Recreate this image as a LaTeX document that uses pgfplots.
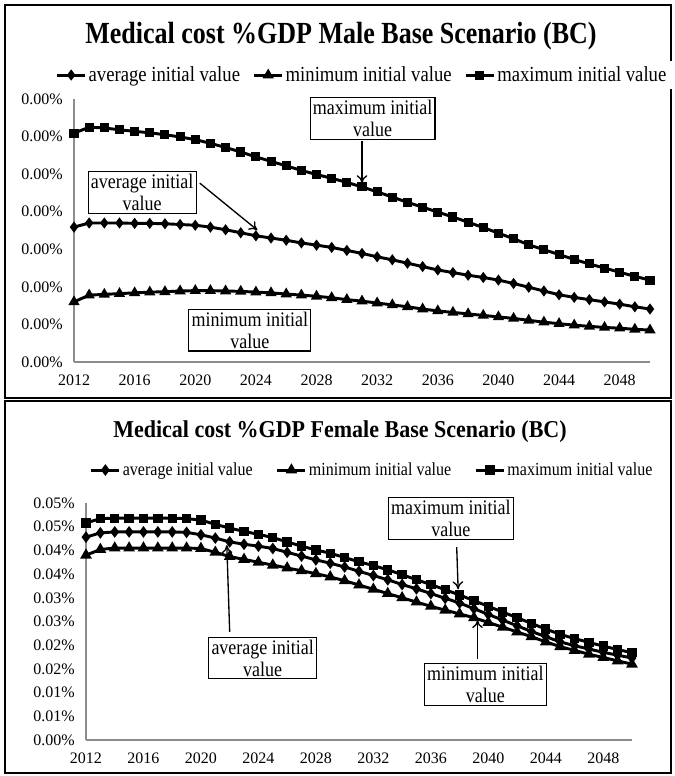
\documentclass[border=0pt]{standalone}
\usepackage{fontspec}
\setmainfont{Liberation Serif}
\usepackage{pgfplots}
\usepackage{pgfplotstable}
\pgfplotsset{compat=1.18}
\usetikzlibrary{arrows.meta}

% Male: values in arbitrary units (every tick reads 0.00%)
\pgfplotstableread{
year avg min max
2012 3.59 1.60 6.09
2013 3.70 1.78 6.25
2014 3.70 1.80 6.23
2015 3.70 1.82 6.18
2016 3.69 1.84 6.14
2017 3.69 1.86 6.10
2018 3.68 1.87 6.05
2019 3.66 1.89 5.99
2020 3.64 1.90 5.92
2021 3.59 1.90 5.82
2022 3.52 1.89 5.71
2023 3.44 1.88 5.59
2024 3.36 1.86 5.46
2025 3.30 1.84 5.34
2026 3.24 1.81 5.22
2027 3.17 1.78 5.10
2028 3.11 1.75 4.99
2029 3.05 1.71 4.89
2030 2.97 1.66 4.78
2031 2.89 1.62 4.66
2032 2.80 1.57 4.53
2033 2.72 1.52 4.39
2034 2.63 1.47 4.25
2035 2.54 1.41 4.12
2036 2.45 1.36 3.99
2037 2.38 1.32 3.86
2038 2.31 1.28 3.72
2039 2.25 1.24 3.58
2040 2.18 1.20 3.43
2041 2.09 1.16 3.28
2042 1.99 1.11 3.12
2043 1.89 1.06 2.99
2044 1.79 1.02 2.86
2045 1.72 0.98 2.73
2046 1.66 0.95 2.61
2047 1.60 0.92 2.50
2048 1.54 0.90 2.39
2049 1.47 0.87 2.28
2050 1.41 0.85 2.18
}\male

% Female: values in percent of GDP
\pgfplotstableread{
year avg min max
2012 0.0428 0.0390 0.0458
2013 0.0437 0.0402 0.0467
2014 0.0439 0.0405 0.0468
2015 0.0439 0.0405 0.0468
2016 0.0439 0.0405 0.0468
2017 0.0439 0.0405 0.0468
2018 0.0439 0.0405 0.0468
2019 0.0438 0.0405 0.0467
2020 0.0433 0.0404 0.0464
2021 0.0426 0.0396 0.0455
2022 0.0418 0.0387 0.0447
2023 0.0413 0.0381 0.0440
2024 0.0409 0.0375 0.0434
2025 0.0404 0.0369 0.0427
2026 0.0396 0.0363 0.0418
2027 0.0388 0.0357 0.0409
2028 0.0380 0.0351 0.0401
2029 0.0373 0.0344 0.0394
2030 0.0365 0.0336 0.0385
2031 0.0356 0.0327 0.0376
2032 0.0347 0.0318 0.0368
2033 0.0338 0.0309 0.0359
2034 0.0328 0.0300 0.0349
2035 0.0319 0.0291 0.0338
2036 0.0309 0.0282 0.0328
2037 0.0299 0.0274 0.0317
2038 0.0289 0.0266 0.0306
2039 0.0277 0.0258 0.0294
2040 0.0265 0.0248 0.0282
2041 0.0253 0.0238 0.0270
2042 0.0241 0.0228 0.0258
2043 0.0229 0.0218 0.0246
2044 0.0218 0.0207 0.0234
2045 0.0207 0.0197 0.0223
2046 0.0199 0.0189 0.0214
2047 0.0192 0.0181 0.0206
2048 0.0185 0.0174 0.0198
2049 0.0179 0.0167 0.0191
2050 0.0173 0.0160 0.0184
}\female

\pgfplotsset{
  medstyle/.style={
    scale only axis, clip=false,
    axis x line*=bottom, axis y line*=left,
    axis line style={black!45, line width=0.8pt},
    major tick length=0pt,
    xmin=2012, xmax=2050,
    xtick={2012,2016,...,2048},
    xticklabel style={/pgf/number format/1000 sep={},
      /pgf/number format/assume math mode=true,
      font=\fontsize{12}{14}\selectfont, yshift=-6pt},
    yticklabel style={font=\fontsize{12}{14}\selectfont, xshift=-5pt},
    scaled y ticks=false,
    every axis plot/.append style={black, line width=2.2pt, mark options={solid}},
    legend image code/.code={\draw[mark repeat=2,mark phase=2]
      plot coordinates {(0cm,0cm)(0.37cm,0cm)(0.74cm,0cm)};},
    legend cell align=left,
  },
}
\tikzset{
  annbox/.style={draw=black, line width=0.8pt, fill=white, align=center,
    inner sep=2pt, font=\fontsize{13.5}{16.5}\selectfont},
  annarrow/.style={-{To[length=6pt,width=8pt]}, line width=1pt, black},
}
\newcommand{\tall}[1]{\scalebox{1}[1.15]{#1}}

\begin{document}
\begin{tikzpicture}[x=0.75pt, y=-0.75pt]
\path[use as bounding box] (0,0) rectangle (675,776);
\draw[line width=1.2pt] (5,5) rectangle (671,398);
\draw[line width=1.2pt] (5,401) rectangle (671,773);

\node[font=\bfseries\fontsize{19.5}{22}\selectfont] at (341,36)
  {\scalebox{1}[1.18]{Medical cost \%GDP Male Base Scenario (BC)}};
\node[font=\bfseries\fontsize{16.5}{20}\selectfont] at (340,432)
  {\scalebox{1}[1.1]{Medical cost \%GDP Female Base Scenario (BC)}};

\begin{axis}[medstyle,
  at={(55.5pt,-271.5pt)}, anchor=south west,
  width=432pt, height=197.25pt,
  ymin=0, ymax=7, ytick={0,1,...,7},
  yticklabels={0.00\%,0.00\%,0.00\%,0.00\%,0.00\%,0.00\%,0.00\%,0.00\%},
  legend columns=3,
  legend style={at={(axis description cs:0.50,1.091)}, anchor=center,
    draw=none, font=\fontsize{14}{16}\selectfont,
    nodes={inner xsep=1.5pt},
    /tikz/every even column/.append style={column sep=8pt}},
]
\addplot[mark=diamond*, mark size=2.4pt] table[x=year, y=avg] {\male};
\addplot[mark=triangle*, mark size=2.7pt] table[x=year, y=min] {\male};
\addplot[mark=square*, mark size=2.3pt] table[x=year, y=max] {\male};
\legend{\tall{average initial value}, \tall{minimum initial value}, \tall{maximum initial value}}

\node[annbox] at (axis cs:2031.7,6.48) {\tall{maximum initial}\\\tall{value}};
\draw[annarrow] (axis cs:2031,5.88) -- (axis cs:2031,4.76);
\node[annbox] at (axis cs:2016.5,4.51) {\tall{average initial}\\\tall{value}};
\draw[annarrow] (axis cs:2020.3,4.76) -- (axis cs:2024.1,3.51);
\node[annbox] at (axis cs:2023.6,0.85) {\tall{minimum initial}\\\tall{value}};
\end{axis}

\begin{axis}[medstyle,
  at={(64.5pt,-555pt)}, anchor=south west,
  width=409.5pt, height=177.75pt,
  ymin=0, ymax=0.05,
  ytick={0,0.005,0.01,0.015,0.02,0.025,0.03,0.035,0.04,0.045,0.05},
  yticklabels={0.00\%,0.01\%,0.01\%,0.02\%,0.02\%,0.03\%,0.03\%,0.04\%,0.04\%,0.05\%,0.05\%},
  legend columns=3,
  legend style={at={(axis description cs:0.524,1.139)}, anchor=center,
    draw=none, font=\fontsize{12}{14}\selectfont,
    nodes={inner xsep=1.5pt},
    /tikz/every even column/.append style={column sep=16pt}},
]
\addplot[mark=diamond*, mark size=2.6pt] table[x=year, y=avg] {\female};
\addplot[mark=triangle*, mark size=2.9pt] table[x=year, y=min] {\female};
\addplot[mark=square*, mark size=2.4pt] table[x=year, y=max] {\female};
\legend{\tall{average initial value}, \tall{minimum initial value}, \tall{maximum initial value}}

\node[annbox] at (axis cs:2037.4,0.0468) {\tall{maximum initial}\\\tall{value}};
\draw[annarrow] (axis cs:2037.8,0.0407) -- (axis cs:2037.9,0.0318);
\node[annbox] at (axis cs:2024.3,0.0173) {\tall{average initial}\\\tall{value}};
\draw[annarrow] (axis cs:2022.0,0.0228) -- (axis cs:2021.8,0.0411);
\node[annbox] at (axis cs:2039.8,0.0117) {\tall{minimum initial}\\\tall{value}};
\draw[annarrow] (axis cs:2039.25,0.0171) -- (axis cs:2039.25,0.0253);
\end{axis}
\end{tikzpicture}
\end{document}
